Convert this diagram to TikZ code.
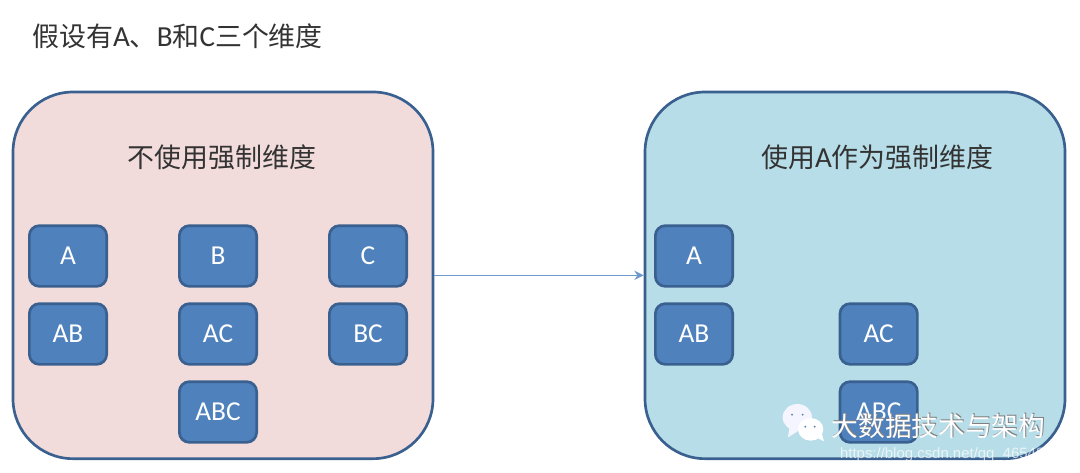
\documentclass[tikz,border=0pt]{standalone}
\usepackage{fontspec}
\usetikzlibrary{arrows.meta}
\setmainfont{Carlito}[Scale=1.08]
\newfontfamily\cjk{Noto Sans CJK SC}
\newfontfamily\urlfont{Liberation Sans}
\definecolor{panelpink}{HTML}{F2DCDB}
\definecolor{panelblue}{HTML}{B7DDE8}
\definecolor{boxfill}{HTML}{4F81BD}
\definecolor{boxline}{HTML}{3A6090}
\definecolor{linkblue}{HTML}{6E9BCF}
\definecolor{textgray}{HTML}{333333}

\begin{document}
\begin{tikzpicture}[node distance=58.5pt]
\tikzstyle{panel} = [rectangle, rounded corners=45pt, minimum width=315pt, minimum height=275pt, line width=2pt, draw=boxline]
\tikzstyle{dimbox} = [rectangle, rounded corners=7.5pt, minimum width=58pt, minimum height=45.5pt, inner sep=0pt, line width=2pt, draw=boxline, fill=boxfill, text=white, font=\fontsize{19}{19}\selectfont]
\tikzstyle{caption} = [inner sep=0pt, text=textgray, font=\fontsize{20.2}{20.2}\selectfont]
\tikzstyle{arrow} = [line width=1.1pt, draw=linkblue, -{Stealth[length=7pt,width=7pt,fill=boxfill]}]

\useasboundingbox (0,0) rectangle (810pt,-354pt);

\node (title) [caption, anchor=west] at (24pt,-27pt) {{\cjk 假设有}A{\cjk 、}B{\cjk 和}C{\cjk 三个维度}};

\node (plain) [panel, fill=panelpink] at (167.25pt,-206.5pt) {};
\node (forced) [panel, fill=panelblue] at (641.25pt,-206.5pt) {};
\node (plaintitle) [caption] at (166.5pt,-118pt) {\cjk 不使用强制维度};
\node (forcedtitle) [caption] at (658pt,-118pt) {{\cjk 使用}A{\cjk 作为强制维度}};

\node (a) [dimbox] at (51pt,-192pt) {A};
\node (b) [dimbox, right of=a, xshift=54pt] {B};
\node (c) [dimbox, right of=b, xshift=54pt] {C};
\node (ab) [dimbox, below of=a] {AB};
\node (ac) [dimbox, below of=b] {AC};
\node (bc) [dimbox, below of=c] {BC};
\node (abc) [dimbox, below of=ac] {ABC};

\node (fa) [dimbox] at (520.5pt,-192pt) {A};
\node (fab) [dimbox, below of=fa] {AB};
\node (fac) [dimbox, right of=fab, xshift=80pt] {AC};
\node (fabc) [dimbox, below of=fac] {ABC};

\draw [arrow] (plain) -- (forced);

% watermark
\node (shade) [inner sep=0pt, text=black!50, font=\cjk\fontsize{20}{20}\selectfont] at (704.6pt,-319.4pt) {大数据技术与架构};
\node (mark) [inner sep=0pt, text=white, font=\cjk\fontsize{20}{20}\selectfont] at (703.8pt,-320pt) {大数据技术与架构};
\node (site) [inner sep=0pt, text=white, opacity=0.7, font=\urlfont\fontsize{11.2}{11.2}\selectfont] at (716pt,-341pt) {https://blog.csdn.net/qq\_46548855};
\fill [white!96!blue] (598pt,-313pt) ellipse (11pt and 10pt);
\fill [white!96!blue] (592pt,-321pt) -- (591pt,-328pt) -- (599pt,-323pt) -- cycle;
\fill [boxline!80] (594pt,-311pt) circle (0.8pt) (602pt,-311pt) circle (0.8pt);
\fill [white] (608pt,-322pt) ellipse (9.5pt and 8.5pt);
\fill [white] (612pt,-328pt) -- (618pt,-331pt) -- (616pt,-324pt) -- cycle;
\fill [boxline!80] (604pt,-320pt) circle (0.8pt) (611pt,-320pt) circle (0.8pt);
\end{tikzpicture}
\end{document}
